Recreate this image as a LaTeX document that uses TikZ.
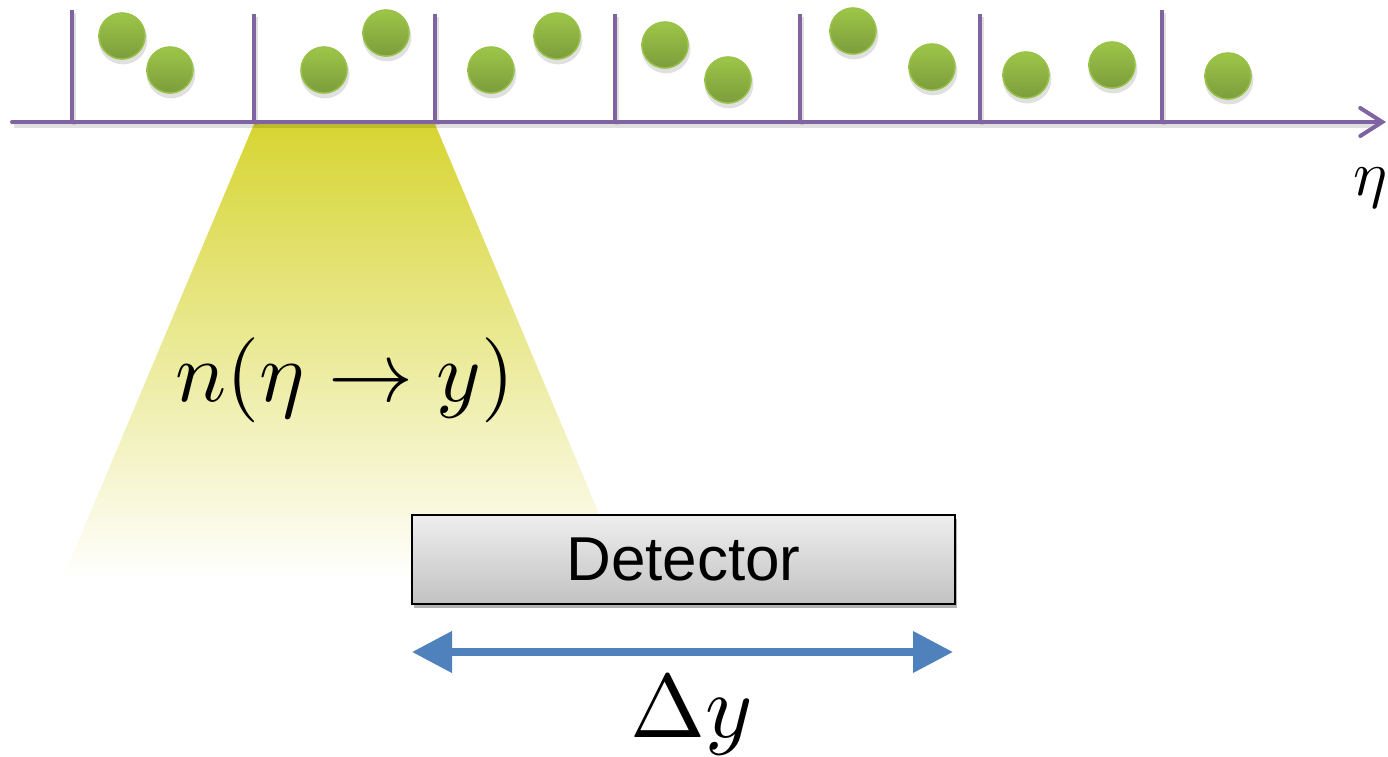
\documentclass[tikz,border=0pt]{standalone}
\usepackage{fontspec}
\newfontfamily\arialf{Liberation Sans}
\usetikzlibrary{arrows.meta,shadows}
\definecolor{axispurple}{RGB}{128,100,162}
\definecolor{balltop}{RGB}{158,198,72}
\definecolor{ballbot}{RGB}{124,156,60}
\definecolor{ballrim}{RGB}{152,194,72}
\definecolor{beamyellow}{RGB}{215,213,50}
\definecolor{arrowblue}{RGB}{79,129,189}
\definecolor{boxtop}{RGB}{238,238,238}
\definecolor{boxbot}{RGB}{194,194,194}
\tikzset{
  axisline/.style={draw=axispurple, line width=2pt, line cap=round},
  tickline/.style={draw=axispurple, line width=2pt},
  shadowline/.style={draw=black, opacity=0.12, line width=2.4pt},
  detbox/.style={draw=black, line width=0.9pt, top color=boxtop, bottom color=boxbot,
    minimum width=271.5pt, minimum height=44.5pt, inner sep=0pt,
    drop shadow={shadow xshift=1pt, shadow yshift=-2pt, opacity=0.3, fill=black}},
  dyarrow/.style={draw=arrowblue, line width=3.6pt,
    {Triangle[length=20pt,width=20pt]}-{Triangle[length=20pt,width=20pt]}},
  mathlabel/.style={inner sep=0pt},
}
\begin{document}
\begin{tikzpicture}[x=0.5pt,y=-0.5pt]
\useasboundingbox (0,0) rectangle (1388,756);
% beam
\shade[top color=beamyellow, bottom color=white]
  (254,124) -- (435,124) -- (627,580) -- (62,580) -- cycle;
% axis shadow
\draw[shadowline] (14,126) -- (1378,126);
\foreach \x/\t in {72/10, 254/14, 435/14, 615/14, 800/14, 980/14, 1162/10}
  \draw[shadowline] (\x+2,\t+3) -- (\x+2,125);
% axis
\coordinate (axstart) at (12,122);
\coordinate (axend) at (1386,122);
\draw[axisline, -{Straight Barb[length=11pt,width=14pt,line cap=round]}] (axstart) -- (axend);
\foreach \x/\t in {72/10, 254/14, 435/14, 615/14, 800/14, 980/14, 1162/10}
  \draw[tickline] (\x,\t) -- (\x,122);
% balls
\foreach \x/\y in {122/36, 170/70, 324/70, 386/33, 491/70, 557/36, 665/45, 728/80,
                   853/31, 932/67, 1026/75, 1112/65, 1228/76} {
  \fill[black, opacity=0.12] (\x+1,\y+4) circle (12.2pt);
  \shade[top color=balltop, bottom color=ballbot] (\x,\y) circle (11.75pt);
  \draw[ballrim, line width=0.7pt] (\x,\y) circle (11.5pt);
}
% labels
\node[mathlabel, scale=4.25] (beamlabel) at (345,380) {$n(\eta\to y)$};
\node[mathlabel, anchor=base west, scale=3.2] (etalabel) at (1352,195) {$\eta$};
% detector
\node[detbox] (det) at (683.5,559.5) {\arialf\fontsize{31}{37}\selectfont Detector};
% delta y arrow
\coordinate (dyl) at (412,652);
\coordinate (dyr) at (953,652);
\draw[dyarrow] (dyl) -- (dyr);
\node[mathlabel, anchor=base, scale=4.5] (dylabel) at (692,737) {$\Delta y$};
\end{tikzpicture}
\end{document}
